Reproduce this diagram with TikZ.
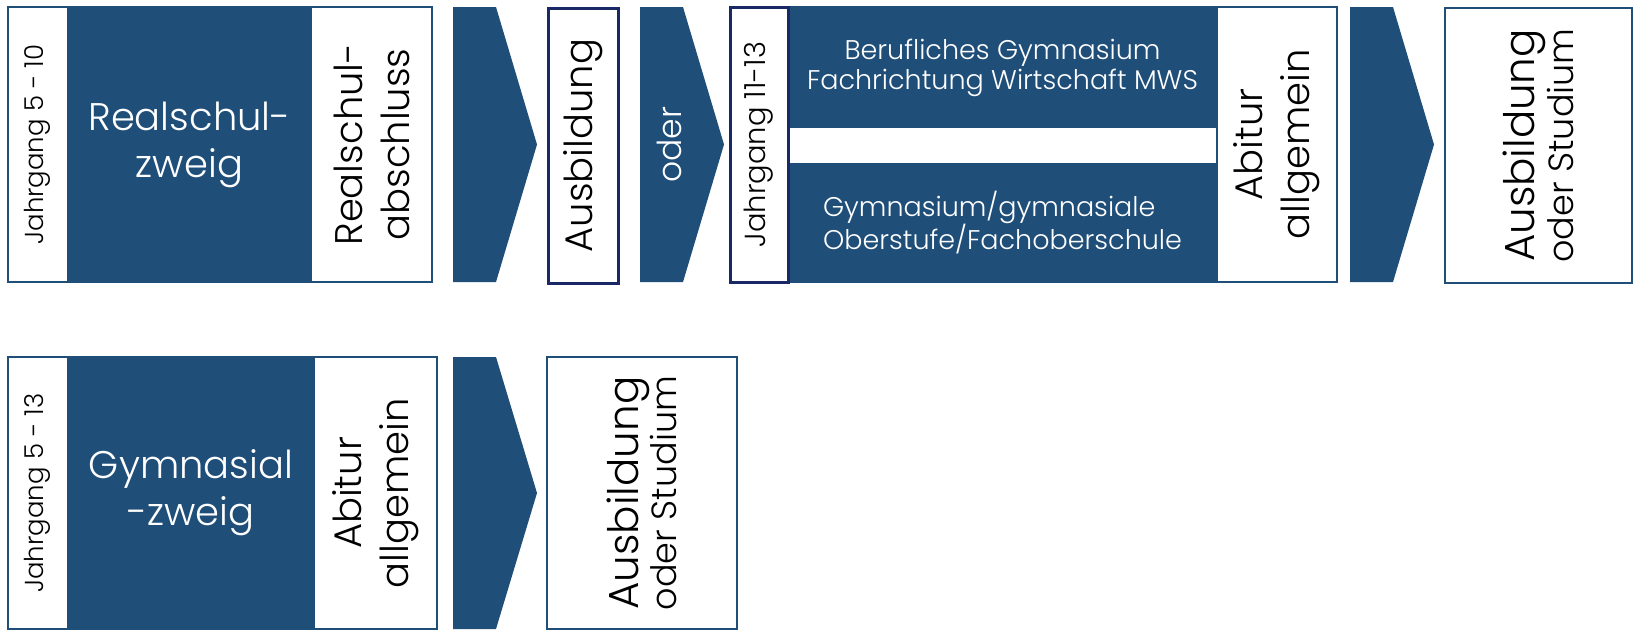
\documentclass[tikz,border=0pt]{standalone}
\usepackage{fontspec}
\setmainfont{Poppins}[UprightFont=* Light]
\definecolor{schulblau}{RGB}{31,78,121}
\definecolor{rahmennavy}{RGB}{26,40,102}
\newcommand\schriftgross{\fontsize{38.5}{47}\selectfont}
\newcommand\schriftziel{\fontsize{42}{48}\selectfont}
\newcommand\schriftklein{\fontsize{26}{32}\selectfont}
\newcommand\schriftjahr{\fontsize{29}{34}\selectfont}
\newcommand\schriftmittel{\fontsize{27}{30}\selectfont}
\newcommand\schriftoder{\fontsize{35}{44}\selectfont}
\newcommand\schriftpfeil{\fontsize{33}{38}\selectfont}
\tikzset{
	weiss/.style={fill=white, inner sep=0pt, align=center, text=black},
	dunkel/.style={fill=schulblau, inner sep=0pt, align=center, text=white},
	rahmen/.style={draw=schulblau, line width=2.5pt, inner sep=0pt, align=center},
	navyrahmen/.style={draw=rahmennavy, line width=3pt, fill=white, inner sep=0pt, align=center},
	pics/pfeil/.style={code={\fill[schulblau] (0,-#1) -- (43,-#1) -- (84,0) -- (43,#1) -- (0,#1) -- cycle;}}
}
\begin{document}
\begin{tikzpicture}[x=1pt, y=-1pt]
	\useasboundingbox (0,0) rectangle (1636,630);
	\fill[white] (0,0) rectangle (1636,630);
	\node[weiss, rotate=90, minimum width=275, minimum height=59, font=\schriftklein] (rsJahr) at (37.5,144.5) {Jahrgang 5 - 10};
	\node[dunkel, minimum width=245, minimum height=275, font=\schriftgross] (rsZweig) at (189.5,144.5) {Realschul-\\zweig};
	\node[weiss, rotate=90, minimum width=275, minimum height=120, font=\schriftgross] (rsAbschluss) at (372,144.5) {Realschul-\\abschluss};
	\node[rahmen, minimum width=424, minimum height=275] (rsRahmen) at (220,144.5) {};
	\pic (pf1) at (453,144.5) {pfeil=137.5};
	\node[navyrahmen, rotate=90, minimum width=275, minimum height=70, font=\schriftgross] (ausb1) at (583,145.5) {Ausbildung};
	\pic (pf2) at (640,144.5) {pfeil=137.5};
	\node[text=white, rotate=90, font=\schriftpfeil] (oder) at (669,144.5) {oder};
	\node[dunkel, minimum width=429, minimum height=121, font=\schriftmittel] (bgOben) at (1002.5,67.5) {Berufliches Gymnasium\\Fachrichtung Wirtschaft MWS};
	\node[dunkel, minimum width=429, minimum height=119, font=\schriftmittel, align=left] (bgUnten) at (1002.5,222.5) {Gymnasium/gymnasiale\\Oberstufe/Fachoberschule};
	\node[weiss, draw=schulblau, line width=2.5pt, rotate=90, minimum width=275, minimum height=120, font=\schriftgross] (bgAbitur) at (1277,144.5) {Abitur\\allgemein};
	\node[rahmen, minimum width=607, minimum height=275] (bgRahmen) at (1033.5,144.5) {};
	\node[navyrahmen, rotate=90, minimum width=275, minimum height=58, font=\schriftjahr] (bgJahr) at (759,144.5) {Jahrgang 11-13};
	\pic (pf3) at (1350,144.5) {pfeil=137.5};
	\node[rahmen, fill=white, rotate=90, minimum width=275, minimum height=187] (ziel1) at (1538.5,145.5) {{\schriftziel Ausbildung}\\{\schriftoder oder Studium}};
	\node[weiss, rotate=90, minimum width=272, minimum height=59, font=\schriftklein] (gyJahr) at (37.5,493) {Jahrgang 5 - 13};
	\node[dunkel, minimum width=248, minimum height=272, font=\schriftgross] (gyZweig) at (191,493) {Gymnasial\\-zweig};
	\node[weiss, rotate=90, minimum width=272, minimum height=122, font=\schriftgross] (gyAbitur) at (376,493) {Abitur\\allgemein};
	\node[rahmen, minimum width=429, minimum height=272] (gyRahmen) at (222.5,493) {};
	\pic (pf4) at (453,493) {pfeil=136};
	\node[rahmen, fill=white, rotate=90, minimum width=272, minimum height=190] (ziel2) at (642,493) {{\schriftziel Ausbildung}\\{\schriftoder oder Studium}};
\end{tikzpicture}
\end{document}
